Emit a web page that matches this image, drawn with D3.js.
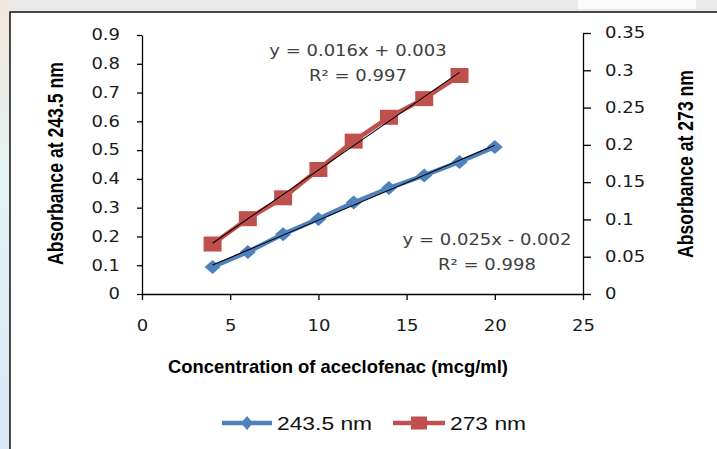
<!DOCTYPE html>
<html>
<head>
<meta charset="utf-8">
<script src="https://cdn.jsdelivr.net/npm/d3@7"></script>
<style>
  html, body { margin: 0; padding: 0; }
  body { width: 717px; height: 449px; overflow: hidden; }
  .tick text { font-family: "DejaVu Sans", Verdana, sans-serif; font-size: 15px; fill: #1a1a1a; }
  .axis path, .axis line { stroke: #000; stroke-width: 1.3; }
</style>
</head>
<body>
<div id="chart"></div>
<script>
//Calibration data: absorbance vs concentration at two wavelengths
const conc243 = [4, 6, 8, 10, 12, 14, 16, 18, 20];
const abs243 = [0.094, 0.146, 0.208, 0.261, 0.318, 0.368, 0.412, 0.459, 0.511];
const conc273 = [4, 6, 8, 10, 12, 14, 16, 18];
const abs273 = [0.067, 0.101, 0.129, 0.167, 0.205, 0.237, 0.262, 0.293];
const seriesNames = ['243.5 nm', '273 nm'];
const xTicks = [0, 5, 10, 15, 20, 25];
const leftTicks = [0, 0.1, 0.2, 0.3, 0.4, 0.5, 0.6, 0.7, 0.8, 0.9];
const rightTicks = [0, 0.05, 0.1, 0.15, 0.2, 0.25, 0.3, 0.35];
const eq243 = ['y = 0.025x - 0.002', 'R² = 0.998'];
const eq273 = ['y = 0.016x + 0.003', 'R² = 0.997'];

const W = 717, H = 449;
const blue = '#4f81bd', red = '#c0504d';
//horizontal stretch of the original picture
const stretchK = 1.2;

let svg = d3.select('#chart').append('svg').attr('width', W).attr('height', H);

//faded page behind the chart frame
let defs = svg.append('defs');
let bg = defs.append('linearGradient').attr('id', 'bg').attr('x1', 0).attr('y1', 0).attr('x2', 0).attr('y2', 1);
bg.append('stop').attr('offset', '0%').attr('stop-color', '#f2e6dc');
bg.append('stop').attr('offset', '40%').attr('stop-color', '#e4f3f4');
bg.append('stop').attr('offset', '100%').attr('stop-color', '#d8e8f4');
svg.append('rect').attr('width', W).attr('height', H).attr('fill', 'url(#bg)');
svg.append('rect').attr('x', 10).attr('y', 0).attr('width', W - 10).attr('height', 12).attr('fill', '#e9e9e9');
svg.append('rect').attr('x', 578).attr('y', 0).attr('width', 118).attr('height', 9).attr('fill', '#fbfbfb');
svg.append('rect').attr('x', 10).attr('y', 12).attr('width', W - 10).attr('height', H - 12).attr('fill', '#fff');
svg.append('path').attr('d', 'M10,' + H + 'V12H' + W).attr('fill', 'none').attr('stroke', '#111').attr('stroke-width', 1.5);

//scales
let x = d3.scaleLinear().domain([0, 25]).range([142, 583]);
let yL = d3.scaleLinear().domain([0, 0.9]).range([294, 35]);
let yR = d3.scaleLinear().domain([0, 0.35]).range([294, 33]);

function stretch(sel, k) {
    sel.each(function () {
        let len = this.getComputedTextLength();
        d3.select(this).attr('textLength', len * k).attr('lengthAdjust', 'spacingAndGlyphs');
    });
}
function fit(sel, len) {
    sel.attr('textLength', len).attr('lengthAdjust', 'spacingAndGlyphs');
}

//axes
let gx = svg.append('g').attr('class', 'axis').attr('transform', 'translate(0,294)')
    .call(d3.axisBottom(x).tickValues(xTicks).tickSize(6).tickPadding(20).tickSizeOuter(0).tickFormat(d => String(d)));
let gl = svg.append('g').attr('class', 'axis').attr('transform', 'translate(142,0)')
    .call(d3.axisLeft(yL).tickValues(leftTicks).tickSize(5).tickPadding(17).tickSizeOuter(0).tickFormat(d => String(d)));
let gr = svg.append('g').attr('class', 'axis').attr('transform', 'translate(583,0)')
    .call(d3.axisRight(yR).tickValues(rightTicks).tickSize(8).tickPadding(14).tickSizeOuter(0).tickFormat(d => String(d)));
[gx, gl, gr].forEach(g => stretch(g.selectAll('text'), stretchK));

//axis titles (narrow bold face, like Calibri)
let titleFont = '"Liberation Sans Narrow", "Liberation Sans", Arial, sans-serif';
svg.append('text').attr('x', 338).attr('y', 373).attr('text-anchor', 'middle')
    .style('font-family', titleFont).style('font-weight', 'bold').style('font-size', '19px')
    .text('Concentration of aceclofenac (mcg/ml)').call(fit, 340);
//rotated titles: scale the glyph height, which becomes the horizontal stretch on screen
svg.append('text').attr('transform', 'translate(63,163.5) rotate(-90) scale(1,1.2)').attr('text-anchor', 'middle')
    .style('font-family', titleFont).style('font-weight', 'bold').style('font-size', '18px')
    .text('Absorbance at 243.5 nm').call(fit, 203);
svg.append('text').attr('transform', 'translate(693,164) rotate(-90) scale(1,1.2)').attr('text-anchor', 'middle')
    .style('font-family', titleFont).style('font-weight', 'bold').style('font-size', '18px')
    .text('Absorbance at 273 nm').call(fit, 188);

//series
let data243 = conc243.map((c, i) => ({x: c, y: abs243[i]}));
let data273 = conc273.map((c, i) => ({x: c, y: abs273[i]}));
let diamond = (w, h) => 'M0,' + (-h) + 'L' + w + ',0L0,' + h + 'L' + (-w) + ',0Z';

let line243 = d3.line().x(d => x(d.x)).y(d => yL(d.y));
let line273 = d3.line().x(d => x(d.x)).y(d => yR(d.y));
svg.append('path').datum(data243).attr('d', line243).attr('fill', 'none').attr('stroke', blue).attr('stroke-width', 4.5);
svg.selectAll('.pt243').data(data243).enter().append('path').attr('class', 'pt243')
    .attr('transform', d => 'translate(' + x(d.x) + ',' + yL(d.y) + ')')
    .attr('d', diamond(8, 7)).attr('fill', blue);
svg.append('path').datum(data273).attr('d', line273).attr('fill', 'none').attr('stroke', red).attr('stroke-width', 4.5);
svg.selectAll('.pt273').data(data273).enter().append('rect').attr('class', 'pt273')
    .attr('x', d => x(d.x) - 9).attr('y', d => yR(d.y) - 7.5)
    .attr('width', 18).attr('height', 15).attr('fill', red);

//least squares trendlines
function fitLine(data) {
    let mx = d3.mean(data, d => d.x), my = d3.mean(data, d => d.y);
    let sxy = d3.sum(data, d => (d.x - mx) * (d.y - my));
    let sxx = d3.sum(data, d => (d.x - mx) * (d.x - mx));
    let m = sxy / sxx;
    return {m: m, b: my - m * mx};
}
[[data243, yL], [data273, yR]].forEach(([data, ys]) => {
    let f = fitLine(data);
    let x0 = data[0].x, x1 = data[data.length - 1].x;
    svg.append('line').attr('x1', x(x0)).attr('y1', ys(f.m * x0 + f.b))
        .attr('x2', x(x1)).attr('y2', ys(f.m * x1 + f.b))
        .attr('stroke', '#000').attr('stroke-width', 1.1);
});

//trendline equations
let eqFont = '"DejaVu Sans", Verdana, sans-serif';
function equation(lines, cx, y0) {
    lines.forEach((t, i) => {
        svg.append('text').attr('x', cx).attr('y', y0 + i * 25).attr('text-anchor', 'middle')
            .style('font-family', eqFont).style('font-size', '15px').style('fill', '#404040')
            .text(t).call(stretch, stretchK);
    });
}
equation(eq273, 358, 56);
equation(eq243, 487, 245);

//legend
let legendY = 423;
let legend = [
    {name: seriesNames[0], color: blue, x0: 222, x1: 272, tx: 277, shape: 'diamond'},
    {name: seriesNames[1], color: red, x0: 393, x1: 445, tx: 450, shape: 'square'}
];
legend.forEach(l => {
    svg.append('line').attr('x1', l.x0).attr('x2', l.x1).attr('y1', legendY).attr('y2', legendY)
        .attr('stroke', l.color).attr('stroke-width', 4.5);
    let cx = (l.x0 + l.x1) / 2;
    if (l.shape === 'diamond') {
        svg.append('path').attr('transform', 'translate(' + cx + ',' + legendY + ')')
            .attr('d', diamond(6, 7)).attr('fill', l.color);
    } else {
        svg.append('rect').attr('x', cx - 8).attr('y', legendY - 6.5).attr('width', 16).attr('height', 13).attr('fill', l.color);
    }
    svg.append('text').attr('x', l.tx).attr('y', legendY + 6.5)
        .style('font-family', titleFont).style('font-size', '19px').style('fill', '#111')
        .text(l.name).call(stretch, 1.2);
});
</script>
</body>
</html>
